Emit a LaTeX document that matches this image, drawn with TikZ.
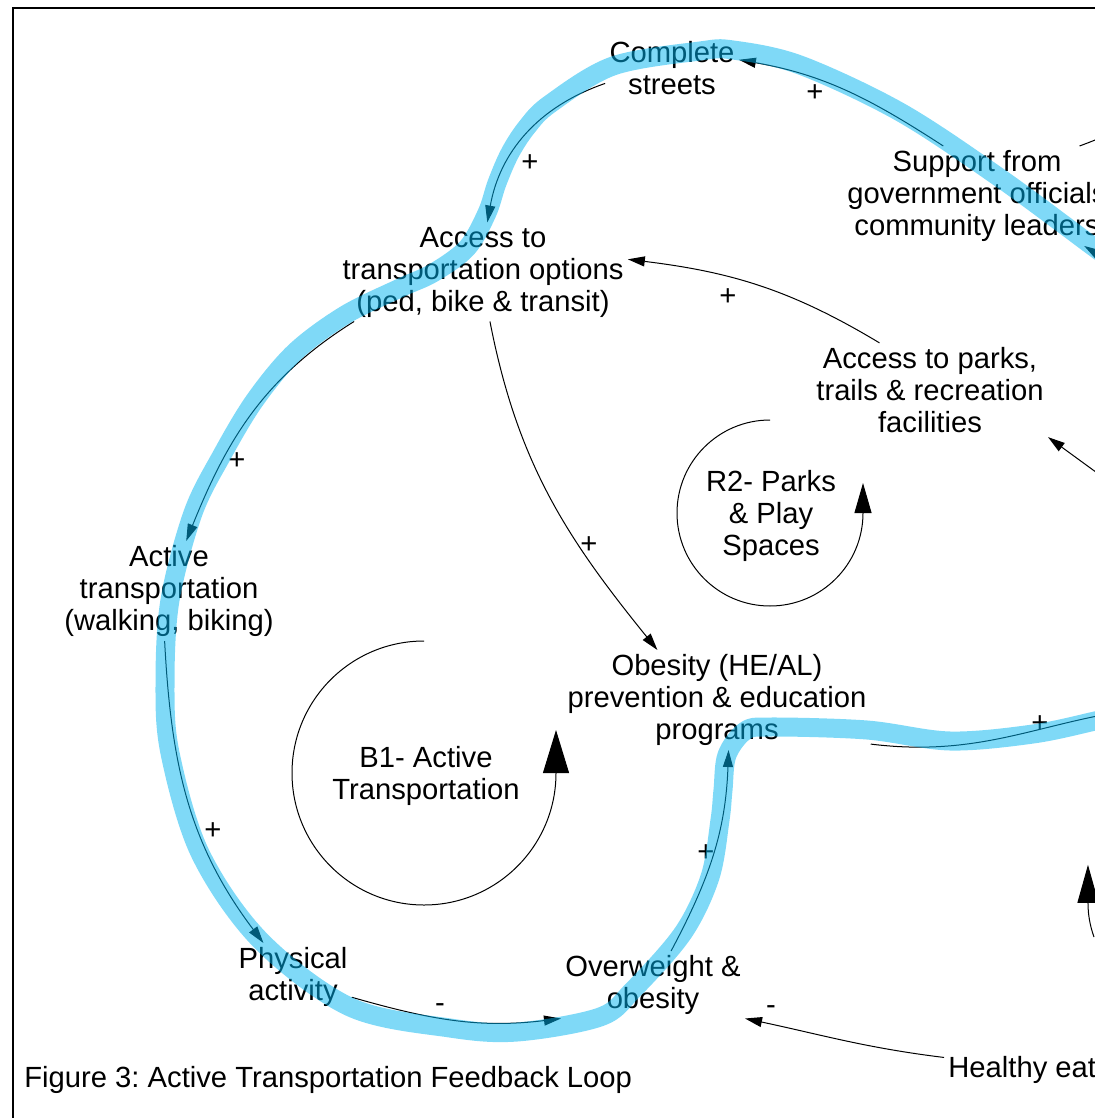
\documentclass[tikz,border=0pt]{standalone}
\usepackage{fontspec}
\setmainfont{Liberation Sans}
\usepackage{tikz}
\usetikzlibrary{positioning, arrows.meta, calc}
\frenchspacing
\definecolor{loopblue}{rgb}{0,0.706,0.941}
\tikzstyle{var}=[%
      align=center, inner sep=2pt, font=\fontsize{14.6pt}{16pt}\selectfont
]
\tikzstyle{sgn}=[%
      inner sep=0pt, font=\fontsize{14.6pt}{16pt}\selectfont
]
\tikzstyle{lnk}=[%
      draw=black, line width=0.5pt, -{Triangle[length=8.5pt,width=5pt]}
]
\tikzstyle{loopmark}=[%
      draw=black, line width=0.5pt
]
\tikzstyle{hl}=[%
      draw=loopblue, line width=9.5pt, opacity=0.5, line join=round
]

\begin{document}
\begin{tikzpicture}[x=0.5pt, y=0.5pt]
    \useasboundingbox (0,0) rectangle (1095,-1118);
    \draw[line width=1.2pt] (13,-1200) |- (1200,-8);

    \node[var] (cs)  at (672,-68)  {Complete\\streets};
    \node[var] (sup) at (977,-196) {Support from\\government officials\\community leaders};
    \node[var] (acc) at (483,-272) {Access to\\transportation options\\(ped, bike \& transit)};
    \node[var] (prk) at (930,-390) {Access to parks,\\trails \& recreation\\facilities};
    \node[var] (act) at (169,-591) {Active\\transportation\\(walking, biking)};
    \node[var] (ob)  at (717,-700) {Obesity (HE/AL)\\prevention \& education\\programs};
    \node[var] (phy) at (293,-977) {Physical\\activity};
    \node[var] (ow)  at (653,-985) {Overweight \&\\obesity};
    \node[var, anchor=base west] (he) at (944,-1077) {Healthy eating};
    \node[var] (r2)  at (771,-516) {R2- Parks\\\& Play\\Spaces};
    \node[var] (b1)  at (426,-776) {B1- Active\\Transportation};
    \node[var, anchor=base west] (fig) at (20,-1087) {Figure 3: Active Transportation Feedback Loop};

    \coordinate (o1) at (1130,-710);
    \coordinate (o2) at (1115,-486);
    \coordinate (o3) at (1130,-128);
    \coordinate (o4) at (1115,-265);

    % loop markers
    \draw[loopmark, -{Triangle[length=15pt,width=8.5pt]}]
      (770,-420) arc[start angle=90, end angle=360, radius=93] -- ++(0,30);
    \draw[loopmark, -{Triangle[length=21.5pt,width=13pt]}]
      (424,-641) arc[start angle=90, end angle=360, radius=132] -- ++(0,43);
    \draw[loopmark, -{Triangle[length=19pt,width=10.5pt]}]
      (1094,-937) arc[start angle=200, end angle=180, radius=100] -- ++(0,38);

    \draw[lnk] (sup.124) to[out=147, in=-10] (cs.7);
    \draw[lnk] (cs.193) to[out=199, in=80] (acc.85);
    \draw[lnk] (prk.137) to[out=149, in=-7] (acc.5);
    \draw[lnk] (acc.201) to[out=212, in=68] (act.71);
    \draw[lnk] (acc.-82) to[out=-79, in=129] (ob.140);
    \draw[lnk] (act.-95) to[out=-87, in=127] (phy.131);
    \draw[lnk] (phy.-19) to[out=-16, in=-173] (ow.200);
    \draw[lnk] (ow.62) to[out=62, in=-92] (ob.-77);
    \draw[lnk] (ob.-16) to[out=-7, in=190] (o1);
    \draw[lnk] (he.173) to[out=173, in=-12] (ow.-20);
    \draw[lnk] (o2) -- (prk.south east);
    \draw[lnk] (sup.26) to[out=20, in=195] (o3);
    \draw[lnk] (o4) -- (sup.-25);

    \node[sgn] (s1)  at (815,-93)   {+};
    \node[sgn] (s2)  at (530,-163)  {+};
    \node[sgn] (s3)  at (728,-297)  {+};
    \node[sgn] (s4)  at (237,-461)  {+};
    \node[sgn] (s5)  at (589,-545)  {+};
    \node[sgn] (s6)  at (213,-831)  {+};
    \node[sgn] (s7)  at (440,-1008) {-};
    \node[sgn] (s8)  at (706,-853)  {+};
    \node[sgn] (s9)  at (1040,-724) {+};
    \node[sgn] (s10) at (771,-1010) {-};

    % highlighted loop
    \draw[hl] plot[smooth, tension=0.55] coordinates {(1115,-262) (1095,-248) (1000,-178) (900,-112)
      (800,-65) (733,-50) (700,-51) (613,-66) (550,-104) (527,-127) (510,-153) (497,-183) (487,-213)
      (467,-248) (433,-273) (400,-288) (345,-315) (295,-352) (255,-400) (222,-455) (193,-513) (170,-600)
      (165,-683) (170,-753) (200,-853) (260,-940) (350,-1007) (450,-1028) (517,-1032) (600,-1017)
      (633,-990) (683,-933) (710,-877) (720,-820) (723,-790) (727,-755) (745,-731) (770,-727)
      (867,-730) (950,-741) (1033,-734) (1095,-721) (1115,-716)};
\end{tikzpicture}
\end{document}
